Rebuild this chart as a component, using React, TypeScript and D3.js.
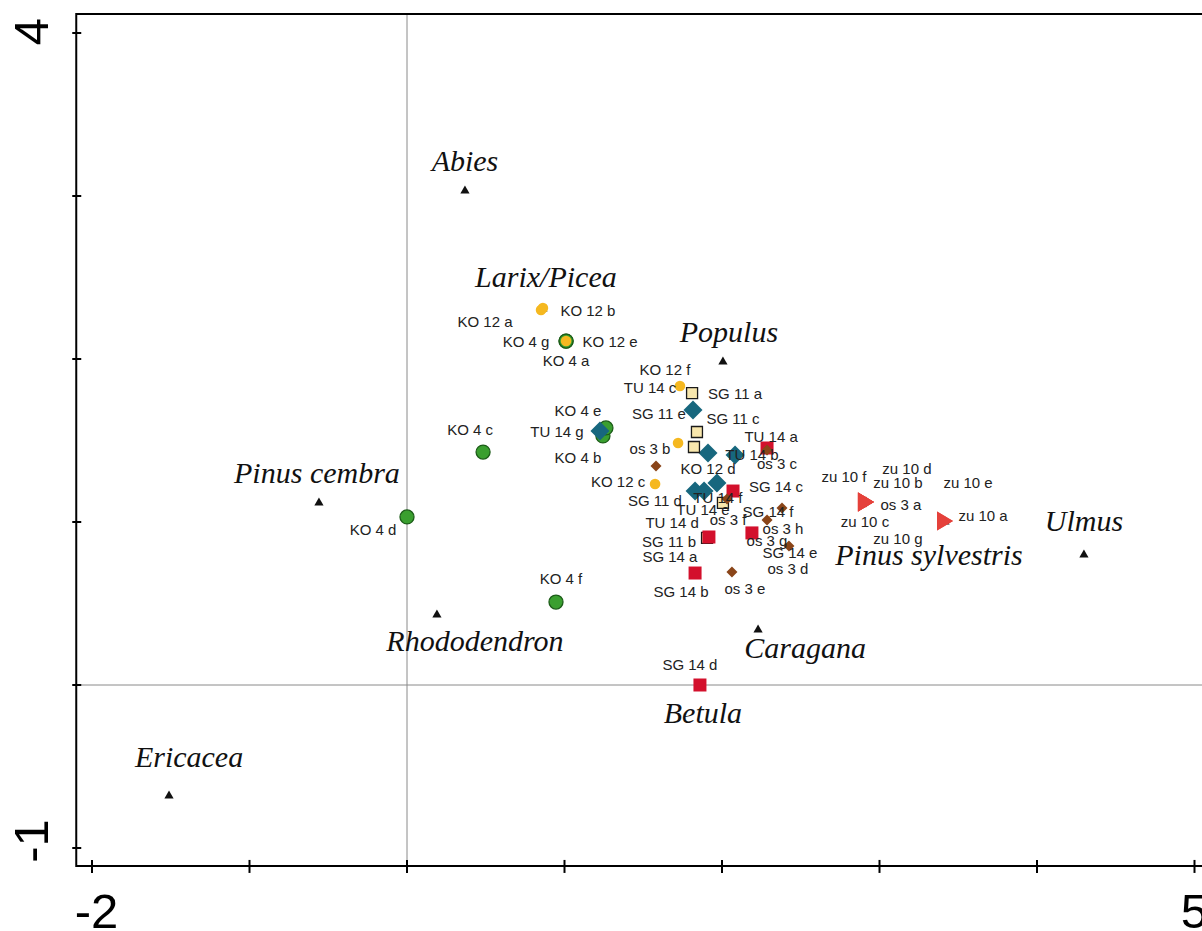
import React from "react";
import * as d3 from "d3";

const WIDTH = 1202;
const HEIGHT = 931;

// Axis ticks and the two labelled extremes on each axis
const xTicks = [-2, -1, 0, 1, 2, 3, 4, 5];
const yTicks = [-1, 0, 1, 2, 3, 4];
const xTickLabels = ["-2", "5"];
const yTickLabels = ["4", "-1"];

type Pt = { id: string; x: number; y: number };

// Pollen taxa (black triangles)
const taxa: Pt[] = [
  { id: "Abies", x: 0.368, y: 3.037 },
  { id: "Larix/Picea", x: 0.863, y: 2.313 },
  { id: "Populus", x: 2.006, y: 1.988 },
  { id: "Pinus cembra", x: -0.559, y: 1.123 },
  { id: "Rhododendron", x: 0.19, y: 0.436 },
  { id: "Caragana", x: 2.229, y: 0.344 },
  { id: "Betula", x: 1.86, y: 0.0 },
  { id: "Ulmus", x: 4.298, y: 0.804 },
  { id: "Pinus sylvestris", x: 3.416, y: 1.006 },
  { id: "Ericacea", x: -1.511, y: -0.675 },
];

// Samples by site
const ko4: Pt[] = [
  { id: "KO 4 a", x: 1.01, y: 2.11 },
  { id: "KO 4 b", x: 1.244, y: 1.528 },
  { id: "KO 4 c", x: 0.483, y: 1.429 },
  { id: "KO 4 d", x: 0.0, y: 1.031 },
  { id: "KO 4 e", x: 1.263, y: 1.577 },
  { id: "KO 4 f", x: 0.946, y: 0.509 },
  { id: "KO 4 g", x: 1.01, y: 2.11 },
];

const ko12: Pt[] = [
  { id: "KO 12 a", x: 0.851, y: 2.301 },
  { id: "KO 12 b", x: 0.863, y: 2.313 },
  { id: "KO 12 c", x: 1.575, y: 1.233 },
  { id: "KO 12 d", x: 1.721, y: 1.485 },
  { id: "KO 12 e", x: 1.01, y: 2.11 },
  { id: "KO 12 f", x: 1.733, y: 1.834 },
];

const tu14: Pt[] = [
  { id: "TU 14 a", x: 2.083, y: 1.411 },
  { id: "TU 14 b", x: 1.911, y: 1.423 },
  { id: "TU 14 c", x: 1.816, y: 1.687 },
  { id: "TU 14 d", x: 1.829, y: 1.19 },
  { id: "TU 14 e", x: 1.886, y: 1.19 },
  { id: "TU 14 f", x: 1.968, y: 1.239 },
  { id: "TU 14 g", x: 1.225, y: 1.558 },
];

const sg11: Pt[] = [
  { id: "SG 11 a", x: 1.81, y: 1.791 },
  { id: "SG 11 b", x: 1.905, y: 0.902 },
  { id: "SG 11 c", x: 1.841, y: 1.552 },
  { id: "SG 11 d", x: 2.006, y: 1.117 },
  { id: "SG 11 e", x: 1.822, y: 1.46 },
];

const sg14: Pt[] = [
  { id: "SG 14 a", x: 1.917, y: 0.908 },
  { id: "SG 14 b", x: 1.829, y: 0.687 },
  { id: "SG 14 c", x: 2.07, y: 1.19 },
  { id: "SG 14 d", x: 1.86, y: 0.0 },
  { id: "SG 14 e", x: 2.19, y: 0.933 },
  { id: "SG 14 f", x: 2.286, y: 1.454 },
];

const os3: Pt[] = [
  { id: "os 3 a", x: 2.914, y: 1.123 },
  { id: "os 3 b", x: 1.581, y: 1.344 },
  { id: "os 3 c", x: 2.286, y: 1.442 },
  { id: "os 3 d", x: 2.425, y: 0.853 },
  { id: "os 3 e", x: 2.063, y: 0.693 },
  { id: "os 3 f", x: 2.032, y: 1.141 },
  { id: "os 3 g", x: 2.381, y: 1.086 },
  { id: "os 3 h", x: 2.286, y: 1.012 },
];

const zu10: Pt[] = [
  { id: "zu 10 a", x: 3.416, y: 1.006 },
  { id: "zu 10 b", x: 2.914, y: 1.123 },
  { id: "zu 10 c", x: 2.914, y: 1.123 },
  { id: "zu 10 d", x: 2.914, y: 1.123 },
  { id: "zu 10 e", x: 3.416, y: 1.006 },
  { id: "zu 10 f", x: 2.914, y: 1.123 },
  { id: "zu 10 g", x: 2.914, y: 1.123 },
];

// Label placement (pixel offset of the label centre from its symbol)
const labelOffsets: Record<string, [number, number]> = {
  "KO 4 a": [0, 20], "KO 4 b": [-25, 22], "KO 4 c": [-13, -22], "KO 4 d": [-34, 13],
  "KO 4 e": [-28, -17], "KO 4 f": [5, -23], "KO 4 g": [-40, 1],
  "KO 12 a": [-56, 12], "KO 12 b": [45, 3], "KO 12 c": [-37, -2], "KO 12 d": [30, 26],
  "KO 12 e": [44, 1], "KO 12 f": [-15, -16],
  "TU 14 a": [36, -18], "TU 14 b": [44, 2], "TU 14 c": [-43, -22], "TU 14 d": [-23, 32],
  "TU 14 e": [-1, 19], "TU 14 f": [1, 15], "TU 14 g": [-43, 1],
  "SG 11 a": [43, 1], "SG 11 b": [-38, 4], "SG 11 c": [36, -13], "SG 11 d": [-68, -2],
  "SG 11 e": [-35, -33],
  "SG 14 a": [-39, 20], "SG 14 b": [-14, 19], "SG 14 c": [43, -4], "SG 14 d": [-10, -20],
  "SG 14 e": [38, 20], "SG 14 f": [1, 64],
  "os 3 a": [35, 3], "os 3 b": [-6, -17], "os 3 c": [10, 14], "os 3 d": [-1, 23],
  "os 3 e": [13, 17], "os 3 f": [1, 21], "os 3 g": [-15, 33], "os 3 h": [16, 9],
  "zu 10 a": [38, -5], "zu 10 b": [32, -19], "zu 10 c": [-1, 20], "zu 10 d": [41, -33],
  "zu 10 e": [23, -38], "zu 10 f": [-22, -25], "zu 10 g": [32, 37],
};

// Taxon names: offset of the baseline centre from the triangle
const taxonOffsets: Record<string, [number, number]> = {
  Abies: [0, -19],
  "Larix/Picea": [3, -21],
  Populus: [6, -19],
  "Pinus cembra": [-2, -19],
  Rhododendron: [38, 37],
  Caragana: [47, 29],
  Betula: [3, 38],
  Ulmus: [0, -23],
  "Pinus sylvestris": [-16, 44],
  Ericacea: [20, -28],
};

const x = d3.scaleLinear().domain([-2, 5]).range([92, 1194.5]);
const y = d3.scaleLinear().domain([-1, 4]).range([848, 33]);

const frameLeft = x(-2.1);
const frameRight = x(5.1);
const frameTop = y(4.117);
const frameBottom = y(-1.11);

const LABEL_FONT = "'Liberation Sans', Arial, sans-serif";
const TAXON_FONT = "'Liberation Serif', 'Times New Roman', serif";

const diamond = (h: number) => `M0,${-h}L${h},0L0,${h}L${-h},0Z`;
const square = (s: number) => `M${-s / 2},${-s / 2}h${s}v${s}h${-s}Z`;
const triRight = "M-8,-9.5L8,0L-8,9.5Z";
const triUp = "M0,-4.5L4.6,3.5L-4.6,3.5Z";

function Marks({ pts, d, fill, stroke, sw }: { pts: Pt[]; d: string; fill: string; stroke?: string; sw?: number }) {
  return (
    <g>
      {pts.map((p) => (
        <path
          key={p.id}
          d={d}
          transform={`translate(${x(p.x)},${y(p.y)})`}
          fill={fill}
          stroke={stroke ?? "none"}
          strokeWidth={sw ?? 0}
        />
      ))}
    </g>
  );
}

export default function App() {
  const samples = [...ko4, ...ko12, ...tu14, ...sg11, ...sg14, ...os3, ...zu10];
  const negShift = 5.5;
  return (
    <svg
      width={WIDTH}
      height={HEIGHT}
      style={{ position: "absolute", left: 0, top: 0, background: "#fff" }}
    >
      <rect width={WIDTH} height={HEIGHT} fill="#fff" />

      {/* zero reference lines */}
      <line x1={x(0)} x2={x(0)} y1={frameTop} y2={frameBottom} stroke="#8a8a8a" strokeWidth={1} />
      <line x1={frameLeft} x2={frameRight} y1={y(0)} y2={y(0)} stroke="#8a8a8a" strokeWidth={1} />

      {/* frame */}
      <path
        d={`M${frameRight},${frameTop}H${frameLeft}V${frameBottom}H${frameRight}`}
        fill="none"
        stroke="#000"
        strokeWidth={2}
      />

      {/* ticks */}
      {yTicks.map((t) => (
        <line key={`yt${t}`} x1={frameLeft - 4} x2={frameLeft + 5} y1={y(t)} y2={y(t)} stroke="#000" strokeWidth={2} />
      ))}
      {xTicks.map((t) => (
        <line key={`xt${t}`} x1={x(t)} x2={x(t)} y1={frameBottom - 6} y2={frameBottom + 7} stroke="#000" strokeWidth={2} />
      ))}

      {/* tick labels */}
      {xTickLabels.map((t) => {
        const v = +t;
        const cx = x(v) + (v < 0 ? negShift - 1 : 0);
        return (
          <text key={`xl${t}`} x={cx} y={928} textAnchor="middle" fontFamily={LABEL_FONT} fontSize={49} fill="#000">
            {t}
          </text>
        );
      })}
      {yTickLabels.map((t) => {
        const v = +t;
        const cy = y(v) - (v < 0 ? negShift + 1.5 : 1.5);
        return (
          <text
            key={`yl${t}`}
            transform={`translate(48,${cy}) rotate(-90)`}
            textAnchor="middle"
            fontFamily={LABEL_FONT}
            fontSize={49}
            fill="#000"
          >
            {t}
          </text>
        );
      })}

      {/* taxa symbols */}
      <Marks pts={taxa} d={triUp} fill="#111" />

      {/* sample symbols */}
      <Marks pts={ko4} d={d3.symbol(d3.symbolCircle, Math.PI * 7 * 7)() as string} fill="#3a9f2f" stroke="#1c5c18" sw={1.3} />
      <Marks pts={ko12} d={d3.symbol(d3.symbolCircle, Math.PI * 5.3 * 5.3)() as string} fill="#f5b820" />
      <Marks pts={tu14} d={diamond(9.5)} fill="#17677e" />
      <Marks pts={sg11} d={square(11)} fill="#f8e7ad" stroke="#1a1a1a" sw={1.3} />
      <Marks pts={sg14} d={square(13)} fill="#d3102c" />
      <Marks pts={os3} d={diamond(5.5)} fill="#8a4519" />
      <Marks pts={zu10} d={triRight} fill="#e5413b" />

      {/* sample labels */}
      <g fontFamily={LABEL_FONT} fontSize={15} fill="#222" textAnchor="middle">
        {samples.map((p) => {
          const [dx, dy] = labelOffsets[p.id] ?? [0, 0];
          return (
            <text key={`l${p.id}`} x={x(p.x) + dx} y={y(p.y) + dy + 5.3}>
              {p.id}
            </text>
          );
        })}
      </g>

      {/* taxon names */}
      <g fontFamily={TAXON_FONT} fontStyle="italic" fontSize={30} fill="#111" textAnchor="middle">
        {taxa.map((p) => {
          const [dx, dy] = taxonOffsets[p.id] ?? [0, 0];
          return (
            <text key={`t${p.id}`} x={x(p.x) + dx} y={y(p.y) + dy}>
              {p.id}
            </text>
          );
        })}
      </g>
    </svg>
  );
}
